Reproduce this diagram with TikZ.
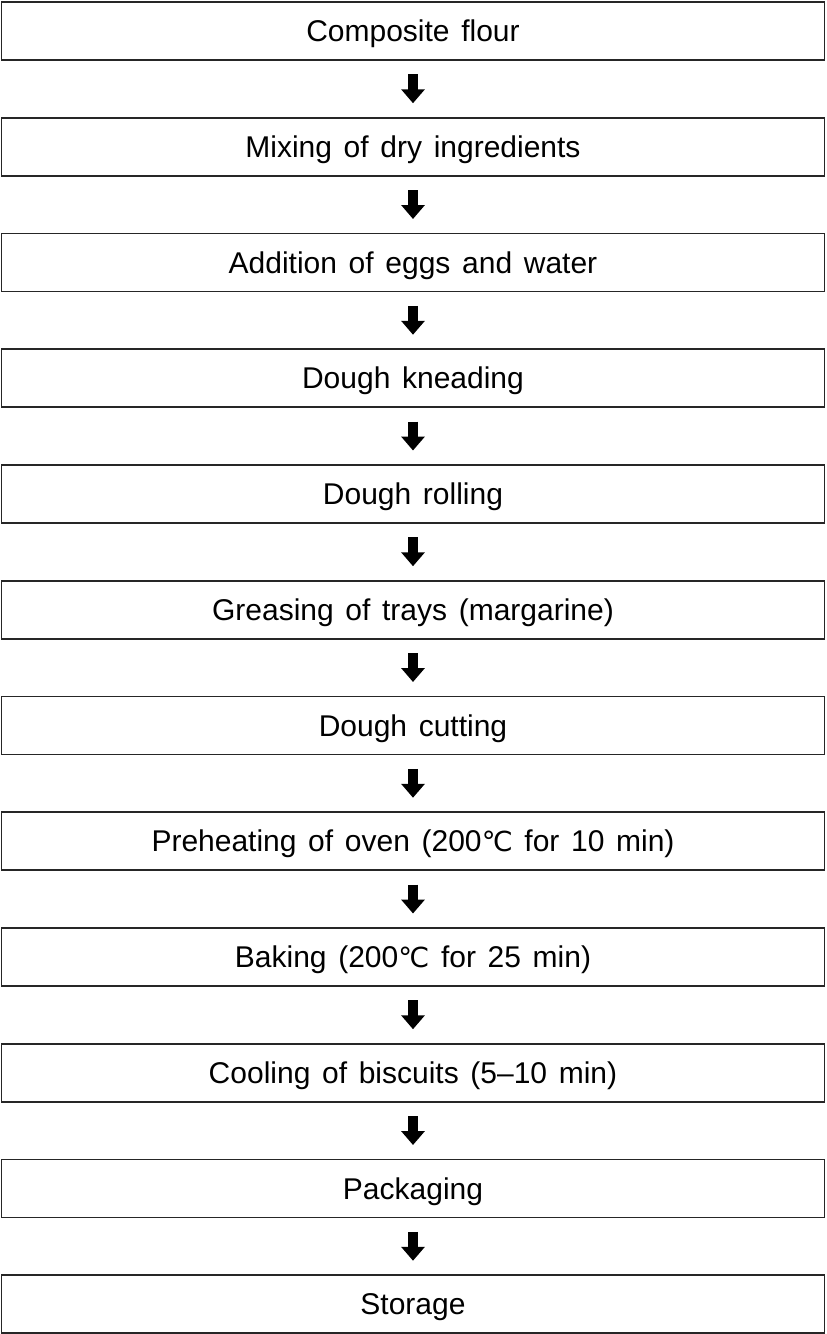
\documentclass[tikz,border=0pt]{standalone}
\usepackage{fontspec}
\setmainfont{Liberation Sans}[WordSpace=1.4]
\newfontfamily\symfont{DejaVu Sans}[Scale=0.92]
\usetikzlibrary{arrows.meta}
\newcommand{\degC}{{\symfont ℃}}
\tikzset{
  stepbox/.style={draw=black!85, line width=1.8pt, minimum width=823pt, minimum height=58pt,
    inner sep=0pt, text height=21.5pt, text depth=0pt,
    font=\fontsize{30pt}{34pt}\selectfont, anchor=north},
  flowarrow/.style={line width=10pt, -{Triangle[width=23pt,length=14pt]},
    shorten <=13.5pt, shorten >=13.5pt}
}
\begin{document}
\begin{tikzpicture}[x=1pt,y=1pt]
\useasboundingbox (0,0) rectangle (827,-1334);
\def\pitch{115.75}
\foreach \i/\t in {0/{Composite flour},
  1/{Mixing of dry ingredients},
  2/{Addition of eggs and water},
  3/{Dough kneading},
  4/{Dough rolling},
  5/{Greasing of trays (margarine)},
  6/{Dough cutting},
  7/{Preheating of oven (200\degC\ for 10 min)},
  8/{Baking (200\degC\ for 25 min)},
  9/{Cooling of biscuits (5–10 min)},
  10/{Packaging},
  11/{Storage}}{
  \node[stepbox] (n\i) at (413,{-1-\i*\pitch}) {\t};
}
\foreach \i [evaluate=\i as \j using int(\i+1)] in {0,...,10}{
  \draw[flowarrow] (n\i.south) -- (n\j.north);
}
\end{tikzpicture}
\end{document}
